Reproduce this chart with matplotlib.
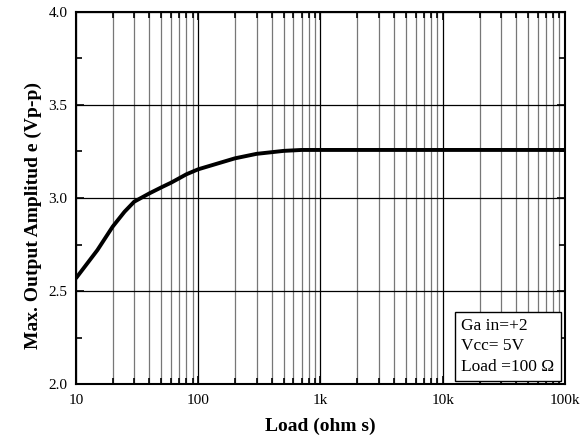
import numpy as np
import matplotlib
matplotlib.use('Agg')
import matplotlib.pyplot as plt
from matplotlib.ticker import FixedLocator, FixedFormatter, NullFormatter

# data
load = [10, 15, 20, 25, 30, 40, 50, 60, 70, 80, 100, 200, 300, 500, 700, 1000, 10000, 100000]
vpp = [2.568, 2.72, 2.846, 2.926, 2.98, 3.025, 3.057, 3.082, 3.106, 3.127, 3.154,
       3.213, 3.237, 3.253, 3.258, 3.258, 3.258, 3.258]

x_ticks = [10, 100, 1000, 10000, 100000]
x_labels = ['10', '100', '1k', '10k', '100k']
y_ticks = [2.0, 2.5, 3.0, 3.5, 4.0]

plt.rcParams['font.family'] = ['Liberation Serif', 'DejaVu Serif']

fig = plt.figure(figsize=(5.88, 4.38), dpi=100)
ax = fig.add_axes([0.129, 0.123, 0.832, 0.850])

ax.set_xscale('log')
ax.set_xlim(10, 100000)
ax.set_ylim(2.0, 4.0)

minor = [m * 10**d for d in range(1, 5) for m in range(2, 10)]
ax.xaxis.set_major_locator(FixedLocator(x_ticks))
ax.xaxis.set_major_formatter(FixedFormatter(x_labels))
ax.xaxis.set_minor_locator(FixedLocator(minor))
ax.xaxis.set_minor_formatter(NullFormatter())
ax.yaxis.set_major_locator(FixedLocator(y_ticks))
ax.yaxis.set_minor_locator(FixedLocator([2.25, 2.75, 3.25, 3.75]))
ax.set_yticklabels(['%.1f' % v for v in y_ticks])

ax.grid(True, which='major', axis='both', color='black', lw=0.9)
ax.grid(True, which='minor', axis='x', color='#777777', lw=0.9)

ax.tick_params(which='both', direction='in', top=True, right=True, labelsize=11)
ax.tick_params(which='major', length=6, width=1.2)
ax.tick_params(which='minor', length=4, width=1.2)
ax.tick_params(axis='x', which='major', pad=7)
ax.tick_params(axis='y', which='major', pad=6)
for s in ax.spines.values():
    s.set_linewidth(1.5)

ax.plot(load, vpp, color='black', lw=2.8, solid_capstyle='butt')

ax.set_xlabel('Load (ohm s)', fontsize=14, fontweight='bold', labelpad=8)
ax.set_ylabel('Max. Output Amplitud e (Vp-p)', fontsize=14, fontweight='bold')
ax.yaxis.set_label_coords(-0.07, 0.454)

ax.text(0.788, 0.024, 'Ga in=+2\nVcc= 5V\nLoad =100 Ω', transform=ax.transAxes,
        ha='left', va='bottom', fontsize=12.5, linespacing=1.4,
        bbox=dict(boxstyle='square,pad=0.35', fc='white', ec='black', lw=1))

fig.savefig('out.png', dpi=100)
